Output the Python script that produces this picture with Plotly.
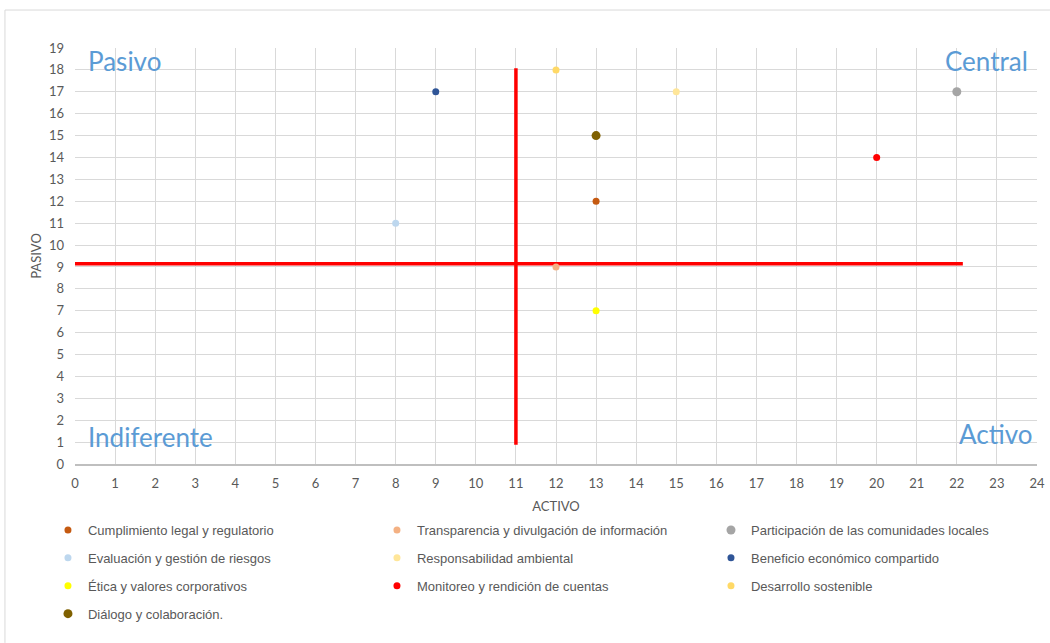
import plotly.graph_objects as go

# ---- data ----
categories = [
    "Cumplimiento legal y regulatorio",
    "Transparencia y divulgación de información",
    "Participación de las comunidades locales",
    "Evaluación y gestión de riesgos",
    "Responsabilidad ambiental",
    "Beneficio económico compartido",
    "Ética y valores corporativos",
    "Monitoreo y rendición de cuentas",
    "Desarrollo sostenible",
    "Diálogo y colaboración.",
]
activo = [13, 12, 22, 8, 15, 9, 13, 20, 12, 13]
pasivo = [12, 9, 17, 11, 17, 17, 7, 14, 18, 15]
colors = ["#C55A11", "#F4B183", "#A5A5A5", "#BDD7EE", "#FFE699",
          "#2F5597", "#FFFF00", "#FF0000", "#FFD966", "#7F6000"]
sizes = [7, 7, 9, 7, 7, 7, 7, 7, 7, 9]

# quadrant divider lines
v_line_x = [11, 11]
v_line_y = [0.88, 18.08]
h_line_x = [0, 22.15]
h_line_y = [9.15, 9.15]

x_ticks = list(range(0, 25))
y_ticks = list(range(0, 20))

quadrants = ["Pasivo", "Central", "Indiferente", "Activo"]

fig = go.Figure()

fig.add_trace(go.Scatter(x=v_line_x, y=v_line_y, mode="lines",
                         line=dict(color="#FF0000", width=3.5),
                         showlegend=False, hoverinfo="skip"))
fig.add_trace(go.Scatter(x=h_line_x, y=h_line_y, mode="lines",
                         line=dict(color="#FF0000", width=3.5),
                         showlegend=False, hoverinfo="skip"))

# legend laid out in 3 columns (one vertical legend per column)
legend_ids = ["legend", "legend2", "legend3"]
for i, (name, xv, yv, c, s) in enumerate(zip(categories, activo, pasivo, colors, sizes)):
    fig.add_trace(go.Scatter(x=[xv], y=[yv], mode="markers", name=name,
                             marker=dict(color=c, size=s),
                             legend=legend_ids[i % 3], legendgroup=f"g{i}"))

ax_font = dict(family="Lato, Carlito, sans-serif", size=13, color="#595959")

fig.update_xaxes(range=[0, 24], tickvals=x_ticks, ticktext=[str(v) for v in x_ticks],
                 showgrid=True, gridcolor="#D9D9D9", gridwidth=1,
                 showline=True, linecolor="#BFBFBF", linewidth=1.5,
                 zeroline=False, tickfont=ax_font, ticks="", ticklabelstandoff=7,
                 title=dict(text="ACTIVO", font=ax_font, standoff=12),
                 automargin=False, fixedrange=True)
fig.update_yaxes(range=[0, 19], tickvals=y_ticks, ticktext=[str(v) for v in y_ticks],
                 showgrid=True, gridcolor="#D9D9D9", gridwidth=1,
                 showline=False, zeroline=False, tickfont=ax_font, ticks="",
                 ticklabelstandoff=10,
                 title=dict(text="PASIVO", font=ax_font, standoff=4),
                 automargin=False, fixedrange=True)

qfont = dict(family="Lato, Carlito, sans-serif", size=26, color="#5B9BD5")
qpos = [(0.0114, 0.969, "left"), (0.993, 0.969, "right"),
        (0.0114, 0.065, "left"), (0.997, 0.072, "right")]
for label, (xp, yp, anc) in zip(quadrants, qpos):
    fig.add_annotation(text=label, x=xp, y=yp, xref="paper", yref="paper",
                       xanchor=anc, yanchor="middle", showarrow=False, font=qfont)

# outer chart border (top and left visible)
fig.add_shape(type="line", xref="paper", yref="paper", x0=-0.0728, x1=1.0135,
              y0=1.0913, y1=1.0913, line=dict(color="#D9D9D9", width=1))
fig.add_shape(type="line", xref="paper", yref="paper", x0=-0.0728, x1=-0.0728,
              y0=1.0913, y1=-0.43, line=dict(color="#D9D9D9", width=1))

leg_font = dict(family="Liberation Sans, Arial, sans-serif", size=13, color="#595959")
col_x = [-0.0281, 0.3139, 0.6611]
layout_legends = {}
for lid, xp in zip(legend_ids, col_x):
    layout_legends[lid] = dict(orientation="v", x=xp, y=(464 - 515) / 416,
                               xanchor="left", yanchor="top",
                               font=leg_font, itemwidth=30, traceorder="grouped",
                               tracegroupgap=8, bgcolor="rgba(0,0,0,0)")

fig.update_layout(
    width=1050, height=643,
    margin=dict(l=75, r=13, t=48, b=179),
    paper_bgcolor="white", plot_bgcolor="white",
    font=dict(family="Liberation Sans, Arial, sans-serif", color="#595959"),
    showlegend=True,
    **layout_legends,
)

fig.write_html("out.html", config={"displayModeBar": False},
               post_script="document.body.style.margin='0';")
